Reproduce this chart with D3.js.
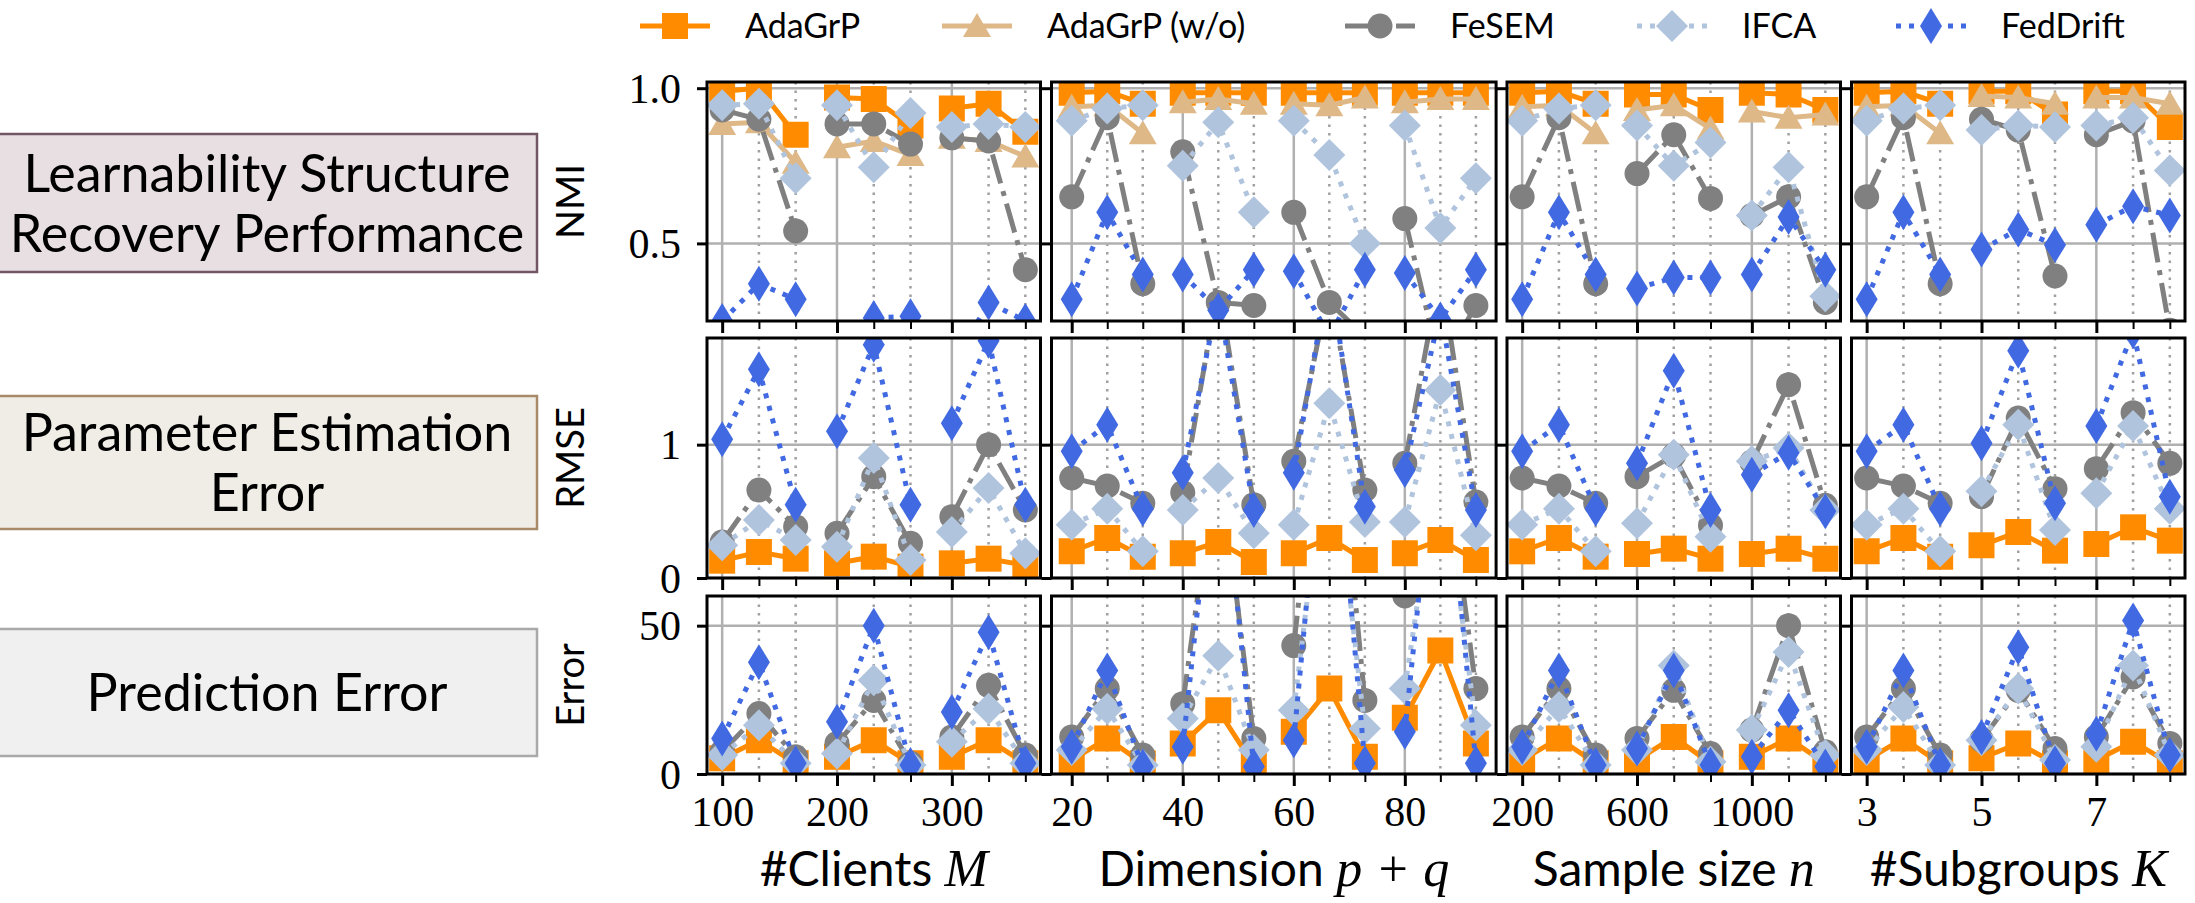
<!DOCTYPE html>
<html>
<head>
<meta charset="utf-8">
<script src="https://cdn.jsdelivr.net/npm/d3@7"></script>
<style>
body { margin: 0; background: #fff; }
svg { display: block; }
</style>
</head>
<body>
<svg width="2195" height="903"></svg>
<script>
// ---------- data ----------
var methods = ["AdaGrP", "AdaGrP (w/o)", "FeSEM", "IFCA", "FedDrift"];

// x values of every point (three settings per group)
var xClients   = [100, 132, 164, 200, 232, 264, 300, 332, 364];
var xDimension = [20, 26.4, 32.8, 40, 46.4, 52.8, 60, 66.4, 72.8, 80, 86.4, 92.8];
var xSample    = [200, 328, 456, 600, 728, 856, 1000, 1128, 1256];
var xSubgroups = [3, 3.64, 4.28, 5, 5.64, 6.28, 7, 7.64, 8.28];

// labelled x ticks
var majorClients   = [100, 200, 300];
var majorDimension = [20, 40, 60, 80];
var majorSample    = [200, 600, 1000];
var majorSubgroups = [3, 5, 7];

var xTitles = [["#Clients ", "M"], ["Dimension ", "p + q"], ["Sample size ", "n"], ["#Subgroups ", "K"]];

// NMI, one inner array per panel
var nmiAdaGrP = [
  [0.99, 1.0, 0.85, 0.97, 0.965, 0.88, 0.935, 0.95, 0.86],
  [0.985, 0.99, 0.95, 0.985, 0.985, 0.985, 0.985, 0.985, 0.985, 0.985, 0.985, 0.985],
  [0.985, 0.99, 0.95, 0.98, 0.98, 0.93, 0.985, 0.98, 0.93],
  [0.985, 0.99, 0.95, 0.99, 0.99, 0.915, 0.99, 0.99, 0.875]
];
var nmiAdaGrPwo = [
  [0.885, 0.89, 0.76, 0.81, 0.83, 0.785, 0.84, 0.83, 0.78],
  [0.94, 0.945, 0.855, 0.955, 0.965, 0.95, 0.95, 0.945, 0.97, 0.955, 0.965, 0.965],
  [0.94, 0.945, 0.855, 0.93, 0.945, 0.87, 0.925, 0.905, 0.915],
  [0.94, 0.945, 0.855, 0.975, 0.97, 0.95, 0.97, 0.97, 0.95]
];
var nmiFeSEM = [
  [0.93, 0.9, 0.54, 0.885, 0.885, 0.82, 0.84, 0.83, 0.415],
  [0.65, 0.905, 0.37, 0.795, 0.31, 0.30, 0.6, 0.31, 0.2, 0.58, 0.1, 0.30],
  [0.65, 0.905, 0.37, 0.725, 0.85, 0.645, 0.59, 0.65, 0.31],
  [0.65, 0.905, 0.37, 0.9, 0.865, 0.395, 0.85, 0.895, 0.22]
];
var nmiIFCA = [
  [0.945, 0.95, 0.71, 0.945, 0.745, 0.92, 0.875, 0.885, 0.875],
  [0.895, 0.935, 0.945, 0.75, 0.89, 0.6, 0.895, 0.785, 0.5, 0.88, 0.55, 0.71],
  [0.895, 0.935, 0.945, 0.88, 0.75, 0.825, 0.59, 0.745, 0.33],
  [0.895, 0.935, 0.945, 0.865, 0.88, 0.875, 0.88, 0.905, 0.735]
];
var nmiFedDrift = [
  [0.25, 0.37, 0.32, 0.15, 0.26, 0.265, 0.1, 0.31, 0.25],
  [0.32, 0.6, 0.4, 0.4, 0.285, 0.415, 0.41, 0.2, 0.415, 0.405, 0.255, 0.415],
  [0.32, 0.6, 0.4, 0.355, 0.39, 0.39, 0.40, 0.585, 0.415],
  [0.32, 0.6, 0.4, 0.48, 0.545, 0.495, 0.56, 0.62, 0.59]
];

// RMSE
var rmseAdaGrP = [
  [0.13, 0.195, 0.145, 0.11, 0.16, 0.085, 0.11, 0.145, 0.095],
  [0.2, 0.3, 0.16, 0.185, 0.27, 0.12, 0.185, 0.3, 0.135, 0.185, 0.285, 0.135],
  [0.2, 0.3, 0.16, 0.18, 0.22, 0.145, 0.18, 0.22, 0.145],
  [0.2, 0.3, 0.16, 0.245, 0.345, 0.205, 0.255, 0.38, 0.28]
];
var rmseFeSEM = [
  [0.27, 0.66, 0.385, 0.335, 0.76, 0.26, 0.46, 1.0, 0.51],
  [0.75, 0.69, 0.56, 0.64, 2.2, 0.55, 0.875, 2.2, 0.66, 0.86, 2.3, 0.57],
  [0.75, 0.69, 0.56, 0.76, 0.92, 0.395, 0.87, 1.45, 0.545],
  [0.75, 0.69, 0.56, 0.61, 1.2, 0.67, 0.82, 1.24, 0.86]
];
var rmseIFCA = [
  [0.245, 0.435, 0.285, 0.235, 0.9, 0.135, 0.345, 0.675, 0.185],
  [0.4, 0.52, 0.2, 0.51, 0.75, 0.335, 0.4, 1.31, 0.42, 0.42, 1.41, 0.32],
  [0.4, 0.52, 0.2, 0.41, 0.925, 0.31, 0.875, 0.975, 0.51],
  [0.4, 0.52, 0.2, 0.65, 1.15, 0.36, 0.635, 1.14, 0.52]
];
var rmseFedDrift = [
  [1.04, 1.565, 0.55, 1.1, 1.75, 0.55, 1.16, 1.78, 0.55],
  [0.95, 1.15, 0.52, 0.79, 2.1, 0.51, 0.79, 2.3, 0.535, 0.81, 2.0, 0.51],
  [0.95, 1.15, 0.52, 0.86, 1.555, 0.51, 0.775, 0.94, 0.5],
  [0.95, 1.15, 0.52, 1.01, 1.705, 0.56, 1.14, 1.85, 0.61]
];

// prediction error
var errAdaGrP = [
  [5.3, 11.4, 3.6, 5.8, 11.4, 3.6, 5.8, 11.4, 3.6],
  [4.7, 12.0, 3.6, 10.3, 21.5, 3.0, 14.2, 28.8, 5.8, 19.0, 41.6, 10.3],
  [4.7, 12.0, 3.6, 4.7, 12.5, 3.6, 5.8, 12.0, 3.6],
  [4.7, 12.0, 3.6, 5.3, 10.3, 3.6, 4.7, 10.9, 3.6]
];
var errFeSEM = [
  [7.5, 20.4, 5.8, 10.3, 24.8, 3.6, 12.5, 29.9, 6.4],
  [12.5, 28.8, 6.4, 23.7, 110, 12.0, 43.3, 150, 24.8, 60, 120, 28.8],
  [12.5, 28.8, 6.4, 12.0, 28.2, 6.9, 14.8, 50, 7.5],
  [12.5, 28.8, 6.4, 11.4, 28.2, 8.6, 12.5, 32.7, 10.3]
];
var errIFCA = [
  [6.4, 16.4, 3.6, 6.9, 31.6, 3.0, 10.9, 22.0, 3.6],
  [8.1, 22.0, 3.0, 18.7, 39.9, 8.1, 21.5, 120, 15.3, 28.8, 110, 16.4],
  [8.1, 22.6, 3.0, 8.1, 36.6, 4.1, 14.8, 41.1, 6.4],
  [8.1, 22.6, 3.0, 11.4, 28.8, 4.7, 9.2, 36.6, 6.4]
];
var errFedDrift = [
  [12.0, 37.7, 3.6, 17.6, 50, 3.0, 20.9, 47.8, 3.6],
  [9.2, 34.9, 2.5, 9.2, 120, 2.5, 11.4, 140, 3.6, 14.2, 130, 3.6],
  [9.2, 34.9, 3.0, 8.6, 34.9, 3.0, 5.8, 21.5, 2.5],
  [9.2, 34.9, 3.0, 12.5, 42.7, 3.6, 13.6, 51.7, 6.4]
];

// ---------- layout / styles ----------
var svg = d3.select("svg");
var colLeft = [707, 1051.5, 1507, 1851.5],
    colWidth = [333.5, 444.6, 333.5, 333.5],
    rowTop = [82, 338, 596],
    rowHeight = [239, 240, 178];

var panels = [
  {x: xClients, major: majorClients},
  {x: xDimension, major: majorDimension},
  {x: xSample, major: majorSample},
  {x: xSubgroups, major: majorSubgroups}
];

var rows = [
  {name: "NMI", domain: [0.25, 1.02], ticks: [0.5, 1.0], fmt: d3.format(".1f"),
   series: [nmiAdaGrP, nmiAdaGrPwo, nmiFeSEM, nmiIFCA, nmiFedDrift],
   box: {y: 134, h: 138, fill: "#e8dfe3", stroke: "#735663", lines: ["Learnability Structure", "Recovery Performance"]}},
  {name: "RMSE", domain: [0, 1.8], ticks: [0, 1], fmt: d3.format("d"),
   series: [rmseAdaGrP, null, rmseFeSEM, rmseIFCA, rmseFedDrift],
   box: {y: 396, h: 133, fill: "#f0ede6", stroke: "#a88a68", lines: ["Parameter Estimation", "Error"]}},
  {name: "Error", domain: [0, 60], ticks: [0, 50], fmt: d3.format("d"),
   series: [errAdaGrP, null, errFeSEM, errIFCA, errFedDrift],
   box: {y: 629, h: 127, fill: "#f0f0f0", stroke: "#a9a9a9", lines: ["Prediction Error"]}}
];

var styles = [
  {color: "#ff8c00", dash: null,        marker: "square"},
  {color: "#deb887", dash: null,        marker: "triangle"},
  {color: "#808080", dash: "30,8,5,8",  marker: "circle"},
  {color: "#b0c4de", dash: "5,8",       marker: "diamond"},
  {color: "#4169e1", dash: "5,8",       marker: "thin"}
];

var sansFont = "Lato, 'DejaVu Sans', sans-serif",
    serifFont = "'Liberation Serif', 'DejaVu Serif', serif";

function markerPath(kind) {
  if (kind == "square") return "M-13,-13H13V13H-13Z";
  if (kind == "triangle") return "M0,-13L14,11L-14,11Z";
  if (kind == "circle") return "M12.5,0A12.5,12.5 0 1,1 -12.5,0A12.5,12.5 0 1,1 12.5,0Z";
  if (kind == "diamond") return "M0,-16L16,0L0,16L-16,0Z";
  return "M0,-18L11,0L0,18L-11,0Z";
}

var line = d3.line();

// ---------- panels ----------
rows.forEach(function(row, ri) {
  var top = rowTop[ri], h = rowHeight[ri];
  var y = d3.scaleLinear().domain(row.domain).range([h, 0]);

  panels.forEach(function(p, ci) {
    var left = colLeft[ci], w = colWidth[ci];
    var ext = d3.extent(p.x), pad = (ext[1] - ext[0]) * 0.05;
    var x = d3.scaleLinear().domain([ext[0] - pad, ext[1] + pad]).range([0, w]);
    var minors = p.x.filter(function(v) { return p.major.indexOf(v) < 0; });

    var g = svg.append("g")
        .attr("transform", "translate(" + left + "," + top + ")");

    var clipId = "clip-" + ri + "-" + ci;
    g.append("clipPath").attr("id", clipId)
      .append("rect").attr("width", w).attr("height", h);

    // grid
    g.append("g").selectAll("line").data(p.major).enter().append("line")
        .attr("x1", x).attr("x2", x).attr("y1", 0).attr("y2", h)
        .attr("stroke", "#b0b0b0").attr("stroke-width", 2.5);
    g.append("g").selectAll("line").data(minors).enter().append("line")
        .attr("x1", x).attr("x2", x).attr("y1", 0).attr("y2", h)
        .attr("stroke", "#a0a0a0").attr("stroke-width", 2.5)
        .attr("stroke-dasharray", "2.5,6");
    g.append("g").selectAll("line").data(row.ticks).enter().append("line")
        .attr("x1", 0).attr("x2", w).attr("y1", y).attr("y2", y)
        .attr("stroke", "#b0b0b0").attr("stroke-width", 2.5);

    // data
    var plot = g.append("g").attr("clip-path", "url(#" + clipId + ")");
    row.series.forEach(function(vals, si) {
      if (!vals) return;
      var st = styles[si];
      var pts = p.x.map(function(xv, i) { return [x(xv), y(vals[ci][i])]; });
      var s = plot.append("g").attr("class", "series-" + si);
      for (var k = 0; k < pts.length; k += 3) {
        s.append("path")
            .attr("d", line(pts.slice(k, k + 3)))
            .attr("fill", "none")
            .attr("stroke", st.color)
            .attr("stroke-width", 5)
            .attr("stroke-dasharray", st.dash);
      }
      s.selectAll(".mk").data(pts).enter().append("path")
          .attr("class", "mk")
          .attr("transform", function(d) { return "translate(" + d[0] + "," + d[1] + ")"; })
          .attr("d", markerPath(st.marker))
          .attr("fill", st.color);
    });

    // frame
    g.append("rect").attr("width", w).attr("height", h)
        .attr("fill", "none").attr("stroke", "#000").attr("stroke-width", 3);

    // x ticks
    var xa = g.append("g").attr("transform", "translate(0," + h + ")")
        .call(d3.axisBottom(x).tickValues(p.major).tickSize(12).tickPadding(10)
          .tickFormat(ri == 2 ? d3.format("d") : ""));
    var xm = g.append("g").attr("transform", "translate(0," + h + ")")
        .call(d3.axisBottom(x).tickValues(minors).tickSize(8).tickFormat(""));
    // y ticks
    var ya = g.append("g")
        .call(d3.axisLeft(y).tickValues(row.ticks).tickSize(10).tickPadding(16)
          .tickFormat(ci == 0 ? row.fmt : ""));

    [xa, xm, ya].forEach(function(a) {
      a.select(".domain").remove();
      a.attr("font-family", serifFont).attr("font-size", 42);
      a.selectAll("text").attr("fill", "#000");
    });
    xa.selectAll("line").attr("stroke", "#000").attr("stroke-width", 3);
    xm.selectAll("line").attr("stroke", "#000").attr("stroke-width", 2);
    ya.selectAll("line").attr("stroke", "#000").attr("stroke-width", 3);
    ya.selectAll("text").attr("dy", "0.34em");

    if (ri == 2) {
      var t = svg.append("text")
          .attr("x", left + w / 2).attr("y", 886)
          .attr("text-anchor", "middle")
          .attr("font-family", sansFont).attr("font-size", 48);
      t.append("tspan").text(xTitles[ci][0]);
      t.append("tspan").attr("font-family", serifFont).attr("font-style", "italic")
          .attr("font-size", 52).text(xTitles[ci][1]);
    }
  });

  // y label
  svg.append("text")
      .attr("transform", "translate(584," + (top + h / 2) + ") rotate(-90)")
      .attr("text-anchor", "middle")
      .attr("font-family", sansFont).attr("font-size", 38)
      .text(row.name);

  // side box
  var b = row.box;
  svg.append("rect")
      .attr("x", -3).attr("y", b.y).attr("width", 540).attr("height", b.h)
      .attr("fill", b.fill).attr("stroke", b.stroke).attr("stroke-width", 2.5);
  var cy = b.y + b.h / 2, lh = 60;
  b.lines.forEach(function(txt, i) {
    svg.append("text")
        .attr("x", 267)
        .attr("y", cy + (i - (b.lines.length - 1) / 2) * lh)
        .attr("dy", "0.36em")
        .attr("text-anchor", "middle")
        .attr("font-family", sansFont).attr("font-size", 52)
        .text(txt);
  });
});

// ---------- legend ----------
var legendX = [640, 942, 1345, 1637, 1896];
var leg = svg.append("g").attr("transform", "translate(0,26)");
methods.forEach(function(m, i) {
  var st = styles[i], x0 = legendX[i];
  var it = leg.append("g").attr("transform", "translate(" + x0 + ",0)");
  it.append("line").attr("x1", 0).attr("x2", 70)
      .attr("stroke", st.color).attr("stroke-width", 5)
      .attr("stroke-dasharray", st.dash);
  it.append("path").attr("transform", "translate(35,0)")
      .attr("d", markerPath(st.marker)).attr("fill", st.color);
  it.append("text").attr("x", 105).attr("dy", "0.36em")
      .attr("font-family", sansFont).attr("font-size", 34)
      .text(m);
});
</script>
</body>
</html>
